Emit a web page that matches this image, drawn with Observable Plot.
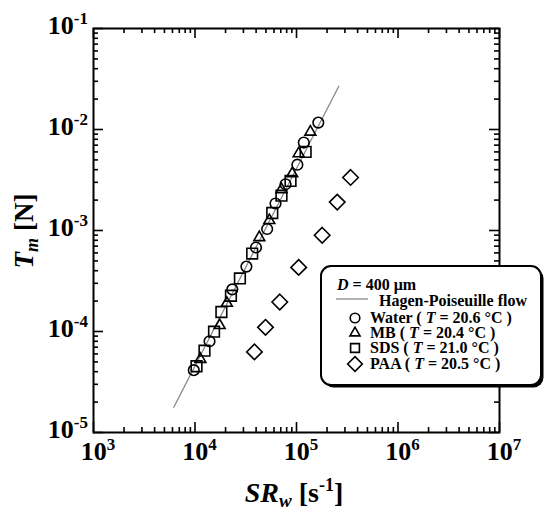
<!DOCTYPE html>
<html><head><meta charset="utf-8">
<script src="https://cdn.jsdelivr.net/npm/d3@7"></script>
<script src="https://cdn.jsdelivr.net/npm/@observablehq/plot@0.6"></script>
<style>body{margin:0;background:#fff}</style>
</head><body><div id="chart"></div>
<script>
// Tick decades (exponents)
const xExponents = [3, 4, 5, 6, 7];
const yExponents = [-5, -4, -3, -2, -1];

// Water (T = 20.6 °C)
const waterSR = [9730, 13900, 23300, 32100, 39900, 51400, 62100, 78000, 102000, 118000, 164000];
const waterTm = [4.14e-5, 8.0e-5, 2.61e-4, 4.39e-4, 6.79e-4, 1.035e-3, 1.85e-3, 2.87e-3, 4.48e-3, 7.43e-3, 1.17e-2];
// MB (T = 20.4 °C)
const mbSR = [11300, 17500, 20600, 43000, 54000, 71100, 90700, 105000, 137000];
const mbTm = [5.32e-5, 1.15e-4, 1.91e-4, 8.53e-4, 1.26e-3, 2.55e-3, 3.66e-3, 5.78e-3, 9.46e-3];
// SDS (T = 21.0 °C)
const sdsSR = [10350, 12400, 15400, 18200, 22600, 27700, 36600, 57700, 71100, 87300, 123000];
const sdsTm = [4.53e-5, 6.46e-5, 9.95e-5, 1.56e-4, 2.26e-4, 3.35e-4, 5.91e-4, 1.49e-3, 2.21e-3, 3.10e-3, 6.0e-3];
// PAA (T = 20.5 °C)
const paaSR = [38500, 49500, 68400, 105000, 179000, 252000, 341000];
const paaTm = [6.28e-5, 1.10e-4, 1.96e-4, 4.31e-4, 8.97e-4, 1.91e-3, 3.35e-3];
// Hagen-Poiseuille flow line endpoints
const hpSR = [6180, 261000];
const hpTm = [1.78e-5, 2.68e-2];

const legendTitle = "D = 400 μm";
const legendLine = "Hagen-Poiseuille flow";
const legendNames = ["Water", "MB", "SDS", "PAA"];
const legendTemps = ["20.6", "20.4", "21.0", "20.5"];

const pts = (sr, tm) => sr.map((v, i) => ({sr: v, tm: tm[i]}));
const water = pts(waterSR, waterTm), mb = pts(mbSR, mbTm), sds = pts(sdsSR, sdsTm), paa = pts(paaSR, paaTm);
const hp = pts(hpSR, hpTm);

const majorX = xExponents.map(e => Math.pow(10, e));
const majorY = yExponents.map(e => Math.pow(10, e));
const minorOf = (majors) => majors.slice(0, -1).flatMap(m => d3.range(2, 10).map(k => k * m));
const minorX = minorOf(majorX), minorY = minorOf(majorY);
const X0 = majorX[0], X1 = majorX[majorX.length - 1];
const Y0 = majorY[0], Y1 = majorY[majorY.length - 1];

const tickW = 1.6;
const tickMarks = [
  Plot.ruleX(majorX, {x: d => d, y1: () => Y0, y2: () => Y0, insetTop: -10, stroke: "black", strokeWidth: tickW}),
  Plot.ruleX(minorX, {x: d => d, y1: () => Y0, y2: () => Y0, insetTop: -5, stroke: "black", strokeWidth: tickW}),
  Plot.ruleX(majorX, {x: d => d, y1: () => Y1, y2: () => Y1, insetBottom: -10, stroke: "black", strokeWidth: tickW}),
  Plot.ruleX(minorX, {x: d => d, y1: () => Y1, y2: () => Y1, insetBottom: -5, stroke: "black", strokeWidth: tickW}),
  Plot.ruleY(majorY, {y: d => d, x1: () => X0, x2: () => X0, insetRight: -10, stroke: "black", strokeWidth: tickW}),
  Plot.ruleY(minorY, {y: d => d, x1: () => X0, x2: () => X0, insetRight: -5, stroke: "black", strokeWidth: tickW}),
  Plot.ruleY(majorY, {y: d => d, x1: () => X1, x2: () => X1, insetLeft: -10, stroke: "black", strokeWidth: tickW}),
  Plot.ruleY(minorY, {y: d => d, x1: () => X1, x2: () => X1, insetLeft: -5, stroke: "black", strokeWidth: tickW})
];

const dotStyle = {x: "sr", y: "tm", stroke: "black", strokeWidth: 1.6, fill: "none"};

const plot = Plot.plot({
  width: 550, height: 513,
  marginLeft: 93, marginRight: 51, marginTop: 28, marginBottom: 81,
  x: {type: "log", domain: [X0, X1], axis: null},
  y: {type: "log", domain: [Y0, Y1], axis: null},
  style: {background: "white"},
  marks: [
    Plot.line(hp, {x: "sr", y: "tm", stroke: "#888", strokeWidth: 1.3}),
    Plot.dot(water, {...dotStyle, symbol: "circle", r: 5.3}),
    Plot.dot(mb, {...dotStyle, symbol: "triangle2", r: 5.2}),
    Plot.dot(sds, {...dotStyle, symbol: "square2", r: 6.8}),
    Plot.dot(paa, {...dotStyle, symbol: "diamond2", r: 7.0}),
    ...tickMarks,
    Plot.frame({stroke: "black", strokeWidth: 2})
  ]
});
document.getElementById("chart").appendChild(plot);

const svg = d3.select(plot);
const sx = plot.scale("x"), sy = plot.scale("y");
const FONT = "'Liberation Serif', 'Times New Roman', serif";

const gx = svg.append("g").attr("font-family", FONT).attr("font-weight", "bold").attr("fill", "black");
// x tick labels
xExponents.forEach((e, i) => {
  const t = gx.append("text").attr("x", sx.apply(majorX[i]) + 5).attr("y", 460)
    .attr("text-anchor", "middle").attr("font-size", 26);
  t.append("tspan").text("10");
  t.append("tspan").attr("font-size", 17).attr("dy", -10).text(String(e));
});
// y tick labels
yExponents.forEach((e, i) => {
  const t = gx.append("text").attr("x", 88).attr("y", sy.apply(majorY[i]) + 6)
    .attr("text-anchor", "end").attr("font-size", 26);
  t.append("tspan").text("10");
  t.append("tspan").attr("font-size", 17).attr("dy", -10).text(String(e));
});

// x axis title
const xt = gx.append("text").attr("x", 294).attr("y", 502).attr("text-anchor", "middle").attr("font-size", 28);
xt.append("tspan").attr("font-style", "italic").text("SR");
xt.append("tspan").attr("font-style", "italic").attr("font-size", 19).attr("dy", 5).text("w");
xt.append("tspan").attr("dy", -5).text(" [s");
xt.append("tspan").attr("font-size", 18).attr("dy", -11).text("-1");
xt.append("tspan").attr("dy", 11).text("]");

// y axis title
const yt = gx.append("text").attr("transform", "translate(33,231) rotate(-90)").attr("text-anchor", "middle").attr("font-size", 27);
yt.append("tspan").attr("font-style", "italic").text("T");
yt.append("tspan").attr("font-style", "italic").attr("font-size", 18).attr("dy", 5).text("m");
yt.append("tspan").attr("dy", -5).text(" [N]");

// legend
const lg = svg.append("g").attr("font-family", FONT).attr("font-weight", "bold").attr("text-anchor", "start");
const bx = 321, by = 266, bw = 220, bh = 119;
lg.append("rect").attr("x", bx + 2.5).attr("y", by + 2.5).attr("width", bw).attr("height", bh).attr("rx", 10).attr("fill", "black");
lg.append("rect").attr("x", bx).attr("y", by).attr("width", bw).attr("height", bh).attr("rx", 10)
  .attr("fill", "white").attr("stroke", "black").attr("stroke-width", 2);
const lt = lg.append("text").attr("x", 337).attr("y", 290).attr("font-size", 16);
lt.append("tspan").attr("font-style", "italic").text("D");
lt.append("tspan").text(legendTitle.slice(1));
lg.append("line").attr("x1", 336).attr("x2", 368).attr("y1", 299).attr("y2", 299).attr("stroke", "#888").attr("stroke-width", 1.3);
lg.append("text").attr("x", 379).attr("y", 306).attr("font-size", 16).text(legendLine);
const symbols = [d3.symbolCircle, d3.symbolTriangle2, d3.symbolSquare2, d3.symbolDiamond2];
const symR = [4.8, 4.8, 5.6, 6.6];
const rowsY = [318, 333, 348, 364];
legendNames.forEach((n, i) => {
  lg.append("path").attr("transform", `translate(355,${rowsY[i]})`)
    .attr("d", d3.symbol(symbols[i], Math.PI * symR[i] * symR[i])())
    .attr("fill", "none").attr("stroke", "black").attr("stroke-width", 1.6);
  const t = lg.append("text").attr("x", 370).attr("y", rowsY[i] + 5).attr("font-size", 16);
  t.append("tspan").text(n + " ( ");
  t.append("tspan").attr("font-style", "italic").text("T");
  t.append("tspan").text(" = " + legendTemps[i] + " °C )");
});
</script>
</body></html>
